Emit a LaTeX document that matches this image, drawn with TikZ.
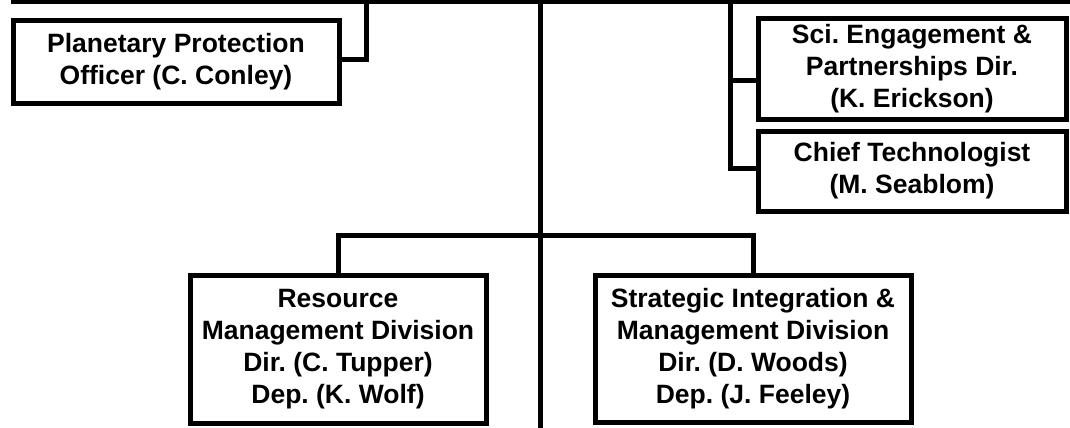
\documentclass[tikz,border=0pt]{standalone}
\usepackage{fontspec}
\setmainfont{Liberation Sans}
\usetikzlibrary{positioning,calc}
\frenchspacing

\begin{document}
\begin{tikzpicture}[
    x=1pt, y=-1pt,
    box/.style={draw, line width=5pt, fill=white, inner sep=0pt, align=center, font=\bfseries\fontsize{26.5}{32}\selectfont},
    link/.style={line width=5pt}
]
\useasboundingbox[fill=white] (0,0) rectangle (1070,428);

\coordinate (topL) at (11,2);
\coordinate (topR) at (1070,2);
\coordinate (trunkT) at (540,0);
\coordinate (trunkB) at (540,428);
\coordinate (ppoT) at (366,2);
\coordinate (rbus) at (730,2);
\coordinate (bus) at (540,235);

\node[box, minimum width=326pt, minimum height=82pt] (ppo) at (176,62) {Planetary Protection\\Officer (C. Conley)};
\node[box, minimum width=308pt, minimum height=100pt] (sci) at (912,69) {Sci. Engagement \&\\Partnerships Dir.\\(K. Erickson)};
\node[box, minimum width=308pt, minimum height=80pt] (chief) at (912,171) {Chief Technologist\\(M. Seablom)};
\node[box, minimum width=296pt, minimum height=148pt] (rmd) at (338,349) {Resource\\Management Division\\Dir. (C. Tupper)\\Dep. (K. Wolf)};
\node[box, minimum width=316pt, minimum height=147pt] (sim) at (753,348.5) {Strategic Integration \&\\Management Division\\Dir. (D. Woods)\\Dep. (J. Feeley)};

\coordinate (sciW) at ([yshift=-11.5pt]sci.west);
\coordinate (chiefW) at ([yshift=3pt]chief.west);

\draw[link] (topL) -- (topR);
\draw[link] (trunkT) -- (trunkB);
\draw[link] ([yshift=2pt]ppo.east) -| (ppoT);
\draw[link] (rbus) |- (chiefW);
\draw[link] (rbus |- sciW) -- (sciW);
\draw[link] (rmd.north) |- (bus) -| (sim.north);
\end{tikzpicture}
\end{document}
